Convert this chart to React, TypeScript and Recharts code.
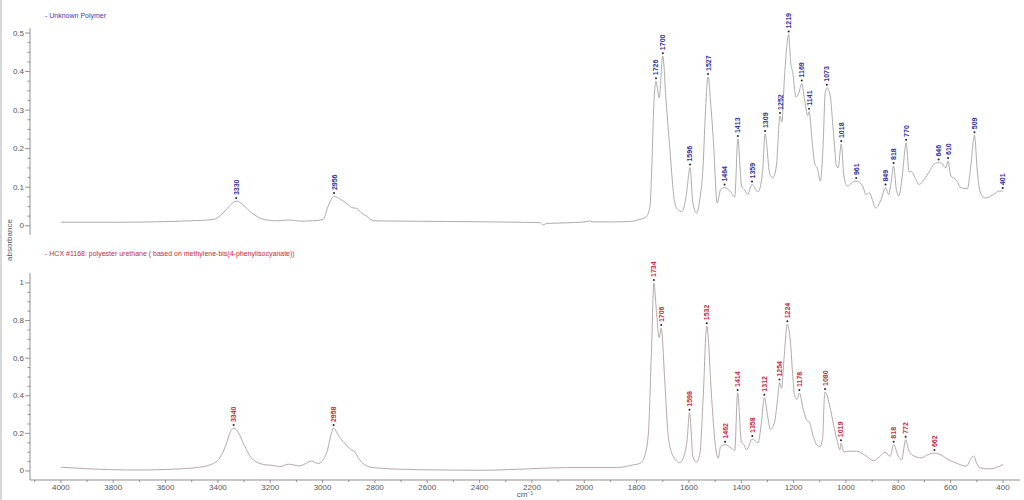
import React from "react";
import { LineChart, Line, XAxis, YAxis } from "recharts";

// ---------- Unknown Polymer (top) ----------
const topWn = [4000, 3800, 3660, 3500, 3419, 3380, 3355, 3300, 3278, 3250, 3228, 3177, 3126, 3088, 3037, 2998, 2979,
  2940, 2921, 2900, 2889, 2878, 2869, 2855, 2832, 2807, 2700, 2526, 2350, 2170, 2157, 2144, 2050, 1985, 1979, 1970, 1900,
  1826, 1790, 1762, 1749, 1742, 1735, 1714, 1688, 1673, 1654, 1640, 1628, 1615, 1609, 1585, 1571, 1558, 1546, 1538,
  1515, 1507, 1492, 1479, 1444, 1425, 1399, 1388, 1376, 1336, 1319, 1291, 1279, 1266, 1245, 1236, 1228, 1211, 1204,
  1191, 1181, 1159, 1146, 1129, 1119, 1110, 1098, 1088, 1079, 1061, 1048, 1036, 1030, 1008, 995, 980, 936, 924, 911,
  886, 866, 837, 828, 808, 798, 785, 759, 749, 733, 720, 701, 682, 663, 631, 618, 599, 580, 561, 536, 523, 498, 486,
  467, 428, 416];
const topAbs = [0.009, 0.009, 0.01, 0.013, 0.016, 0.033, 0.052, 0.052, 0.037, 0.024, 0.017, 0.013, 0.015, 0.012, 0.013, 0.016, 0.05,
  0.072, 0.064, 0.053, 0.047, 0.046, 0.045, 0.035, 0.025, 0.013, 0.012, 0.011, 0.01, 0.008, 0.002, 0.006, 0.008, 0.011, 0.013, 0.01, 0.01,
  0.011, 0.016, 0.024, 0.05, 0.15, 0.3, 0.332, 0.33, 0.199, 0.059, 0.04, 0.037, 0.06, 0.086, 0.06, 0.033, 0.07, 0.155, 0.28,
  0.3, 0.225, 0.059, 0.094, 0.09, 0.075, 0.103, 0.094, 0.081, 0.088, 0.138, 0.134, 0.125, 0.155, 0.27, 0.374, 0.45, 0.421, 0.4,
  0.334, 0.343, 0.33, 0.286, 0.216, 0.16, 0.15, 0.116, 0.2, 0.347, 0.34, 0.243, 0.155, 0.15, 0.129, 0.103, 0.11, 0.103, 0.081, 0.085,
  0.046, 0.068, 0.081, 0.11, 0.096, 0.077, 0.129, 0.14, 0.14, 0.12, 0.107, 0.12, 0.14, 0.16, 0.16, 0.15, 0.129, 0.12, 0.099, 0.096, 0.155, 0.14, 0.085,
  0.072, 0.085, 0.09];
const topPeakWn = [3330, 2956, 1726, 1700, 1596, 1527, 1464, 1413, 1359, 1309, 1252, 1219, 1169, 1141, 1073, 1018, 961, 849, 818, 770, 646, 610, 509, 401];
const topPeakAbs = [0.064, 0.077, 0.375, 0.44, 0.151, 0.386, 0.099, 0.225, 0.107, 0.238, 0.285, 0.496, 0.369, 0.296, 0.358, 0.212, 0.116, 0.099, 0.155, 0.215, 0.164, 0.168, 0.235, 0.09];

// ---------- HCX #1168 (bottom) ----------
const botWn = [4000, 3900, 3722, 3600, 3469, 3405, 3367, 3355, 3320, 3303, 3265, 3214, 3190, 3163, 3131, 3087, 3042, 3017, 2985, 2970,
  2940, 2921, 2889, 2878, 2870, 2845, 2807, 2641, 2387, 2200, 2068, 1877, 1814, 1788, 1775, 1756, 1743, 1724, 1714, 1692, 1679,
  1660, 1635, 1616, 1607, 1584, 1571, 1558, 1546, 1513, 1500, 1488, 1479, 1437, 1425, 1399, 1390, 1380, 1336, 1323, 1298, 1289,
  1273, 1260, 1246, 1237, 1212, 1204, 1196, 1187, 1163, 1150, 1140, 1125, 1112, 1099, 1089, 1083, 1061, 1048, 1033, 1023, 1008,
  991, 959, 921, 895, 870, 851, 831, 800, 787, 759, 737, 712, 687, 628, 609, 580, 540, 521, 511, 501, 488, 450, 400];
const botAbs = [0.02, 0.012, 0.005, 0.008, 0.02, 0.05, 0.148, 0.2, 0.2, 0.148, 0.059, 0.032, 0.03, 0.023, 0.036, 0.027, 0.053, 0.04, 0.094, 0.18,
  0.19, 0.157, 0.112, 0.105, 0.085, 0.04, 0.018, 0.007, 0.004, 0.012, 0.018, 0.018, 0.032, 0.04, 0.059, 0.183, 0.647, 0.843, 0.71, 0.469, 0.184,
  0.077, 0.044, 0.094, 0.166, 0.07, 0.047, 0.094, 0.38, 0.38, 0.148, 0.068, 0.13, 0.12, 0.11, 0.15, 0.14, 0.112, 0.15, 0.26, 0.28, 0.22,
  0.26, 0.4, 0.44, 0.593, 0.68, 0.52, 0.4, 0.38, 0.326, 0.27, 0.26, 0.184, 0.14, 0.13, 0.18, 0.38, 0.34, 0.25, 0.157, 0.112, 0.1,
  0.105, 0.105, 0.078, 0.055, 0.078, 0.1, 0.078, 0.078, 0.06, 0.105, 0.078, 0.07, 0.087, 0.078, 0.06, 0.043, 0.025, 0.07, 0.08, 0.043, 0.017, 0.011, 0.035];
const botPeakWn = [3340, 2958, 1734, 1706, 1598, 1532, 1462, 1414, 1358, 1312, 1254, 1224, 1178, 1080, 1019, 818, 772, 662];
const botPeakAbs = [0.228, 0.228, 1.0, 0.76, 0.31, 0.77, 0.14, 0.415, 0.17, 0.39, 0.47, 0.78, 0.415, 0.42, 0.148, 0.14, 0.166, 0.095];

// ---------- ticks ----------
const xTicks = [4100, 4000, 3900, 3800, 3700, 3600, 3500, 3400, 3300, 3200, 3100, 3000, 2900, 2800, 2700, 2600, 2500, 2400, 2300, 2200,
  2100, 2000, 1900, 1800, 1700, 1600, 1500, 1400, 1300, 1200, 1100, 1000, 900, 800, 700, 600, 500, 400];
const topYTicks = [0, 0.025, 0.05, 0.075, 0.1, 0.125, 0.15, 0.175, 0.2, 0.225, 0.25, 0.275, 0.3, 0.325, 0.35, 0.375, 0.4, 0.425, 0.45, 0.475, 0.5];
const topYMajor = [0, 0.1, 0.2, 0.3, 0.4, 0.5];
const botYTicks = [0, 0.05, 0.1, 0.15, 0.2, 0.25, 0.3, 0.35, 0.4, 0.45, 0.5, 0.55, 0.6, 0.65, 0.7, 0.75, 0.8, 0.85, 0.9, 0.95, 1];
const botYMajor = [0, 0.2, 0.4, 0.6, 0.8, 1];

const topTitle = "- Unknown Polymer";
const botTitle = "- HCX #1168: polyester urethane ( based on methylene-bis(4-phenylisocyanate))";

type Pt = { wn: number; a: number; lbl?: string };
function build(wn: number[], ab: number[], pw: number[], pa: number[]): Pt[] {
  const pts: Pt[] = wn.map((w, i) => ({ wn: w, a: ab[i] }));
  pw.forEach((w, i) => pts.push({ wn: w, a: pa[i], lbl: String(w) }));
  return pts.sort((p, q) => q.wn - p.wn);
}
const topData = build(topWn, topAbs, topPeakWn, topPeakAbs);
const botData = build(botWn, botAbs, botPeakWn, botPeakAbs);

const FONT = "Liberation Sans, Arial, sans-serif";
const AX = "#555";

function makeYTick(major: number[]) {
  return (props: any) => {
    const { x, y, payload } = props;
    const v = payload.value;
    const isMajor = major.some((m) => Math.abs(m - v) < 1e-6);
    return (
      <g>
        <line x1={x - (isMajor ? 5 : 2.5)} x2={x} y1={y} y2={y} stroke="#777" strokeWidth={0.8} />
        {isMajor && (
          <text x={x - 6} y={y} textAnchor="end" dominantBaseline="central" fontSize={8} fill={AX} fontFamily={FONT}>
            {String(v)}
          </text>
        )}
      </g>
    );
  };
}

const XTick = (props: any) => {
  const { x, y, payload } = props;
  const v = payload.value;
  const isMajor = v % 200 === 0;
  return (
    <g>
      <line x1={x} x2={x} y1={y} y2={y + (isMajor ? 3 : 2)} stroke="#777" strokeWidth={0.8} />
      {isMajor && (
        <text x={x} y={y + 7} textAnchor="middle" dominantBaseline="central" fontSize={8} fill={AX} fontFamily={FONT}>
          {String(v)}
        </text>
      )}
    </g>
  );
};

function makeDot(color: string) {
  return (props: any) => {
    const { cx, cy, payload, index } = props;
    if (!payload || !payload.lbl || cx == null || cy == null) return <g key={"d" + index} />;
    const ty = cy - 6;
    return (
      <g key={"d" + index}>
        <circle cx={cx} cy={cy - 3} r={1} fill="#222" />
        <text
          x={cx}
          y={ty}
          transform={`rotate(-90, ${cx}, ${ty})`}
          textAnchor="start"
          dominantBaseline="central"
          fontSize={7}
          fontWeight="bold"
          fill={color}
          fontFamily={FONT}
        >
          {payload.lbl}
        </text>
      </g>
    );
  };
}

const X_DOMAIN: [number, number] = [335, 4118];

export default function App() {
  return (
    <div style={{ position: "absolute", left: 0, top: 0, width: 1024, height: 500, background: "#fff", overflow: "hidden" }}>
      <div style={{ position: "absolute", left: 0, top: 0, width: 2, height: 500, background: "#d8d8d8" }} />
      <div style={{ position: "absolute", left: 0, top: 0 }}>
        <LineChart width={1024} height={245} data={topData} margin={{ top: 28, right: 4, bottom: 10, left: 0 }}>
          <XAxis dataKey="wn" type="number" domain={X_DOMAIN} reversed hide />
          <YAxis
            type="number"
            domain={[-0.024, 0.513]}
            ticks={topYTicks}
            interval={0}
            width={30}
            tickSize={0}
            tickMargin={0}
            tickLine={false}
            axisLine={{ stroke: "#777", strokeWidth: 0.8 }}
            tick={makeYTick(topYMajor)}
          />
          <Line
            dataKey="a"
            type="monotone"
            stroke="#a3a3a3"
            strokeWidth={0.9}
            dot={makeDot("#2e2ea0")}
            activeDot={false}
            isAnimationActive={false}
          />
        </LineChart>
      </div>
      <div style={{ position: "absolute", left: 0, top: 245 }}>
        <LineChart width={1024} height={255} data={botData} margin={{ top: 28, right: 4, bottom: 0, left: 0 }}>
          <XAxis
            dataKey="wn"
            type="number"
            domain={X_DOMAIN}
            reversed
            ticks={xTicks}
            interval={0}
            height={20}
            tickSize={0}
            tickMargin={0}
            tickLine={false}
            axisLine={{ stroke: "#777", strokeWidth: 0.8 }}
            tick={XTick}
          />
          <YAxis
            type="number"
            domain={[-0.048, 1.053]}
            ticks={botYTicks}
            interval={0}
            width={30}
            tickSize={0}
            tickMargin={0}
            tickLine={false}
            axisLine={{ stroke: "#777", strokeWidth: 0.8 }}
            tick={makeYTick(botYMajor)}
          />
          <Line
            dataKey="a"
            type="monotone"
            stroke="#ab9f9f"
            strokeWidth={0.9}
            dot={makeDot("#c8283c")}
            activeDot={false}
            isAnimationActive={false}
          />
        </LineChart>
      </div>
      <svg style={{ position: "absolute", left: 0, top: 0, pointerEvents: "none" }} width={1024} height={500}>
        <text x={45} y={15} fontSize={7} fill="#3a3ab0" fontFamily={FONT} dominantBaseline="central">
          {topTitle}
        </text>
        <text x={45} y={253} fontSize={7} fill="#c8283c" fontFamily={FONT} dominantBaseline="central">
          {botTitle}
        </text>
        <text
          x={9}
          y={240}
          transform="rotate(-90, 9, 240)"
          textAnchor="middle"
          dominantBaseline="central"
          fontSize={8}
          fill={AX}
          fontFamily={FONT}
        >
          absorbance
        </text>
        <text x={525} y={494} textAnchor="middle" dominantBaseline="central" fontSize={8} fill={AX} fontFamily={FONT}>
          cm⁻¹
        </text>
      </svg>
    </div>
  );
}
